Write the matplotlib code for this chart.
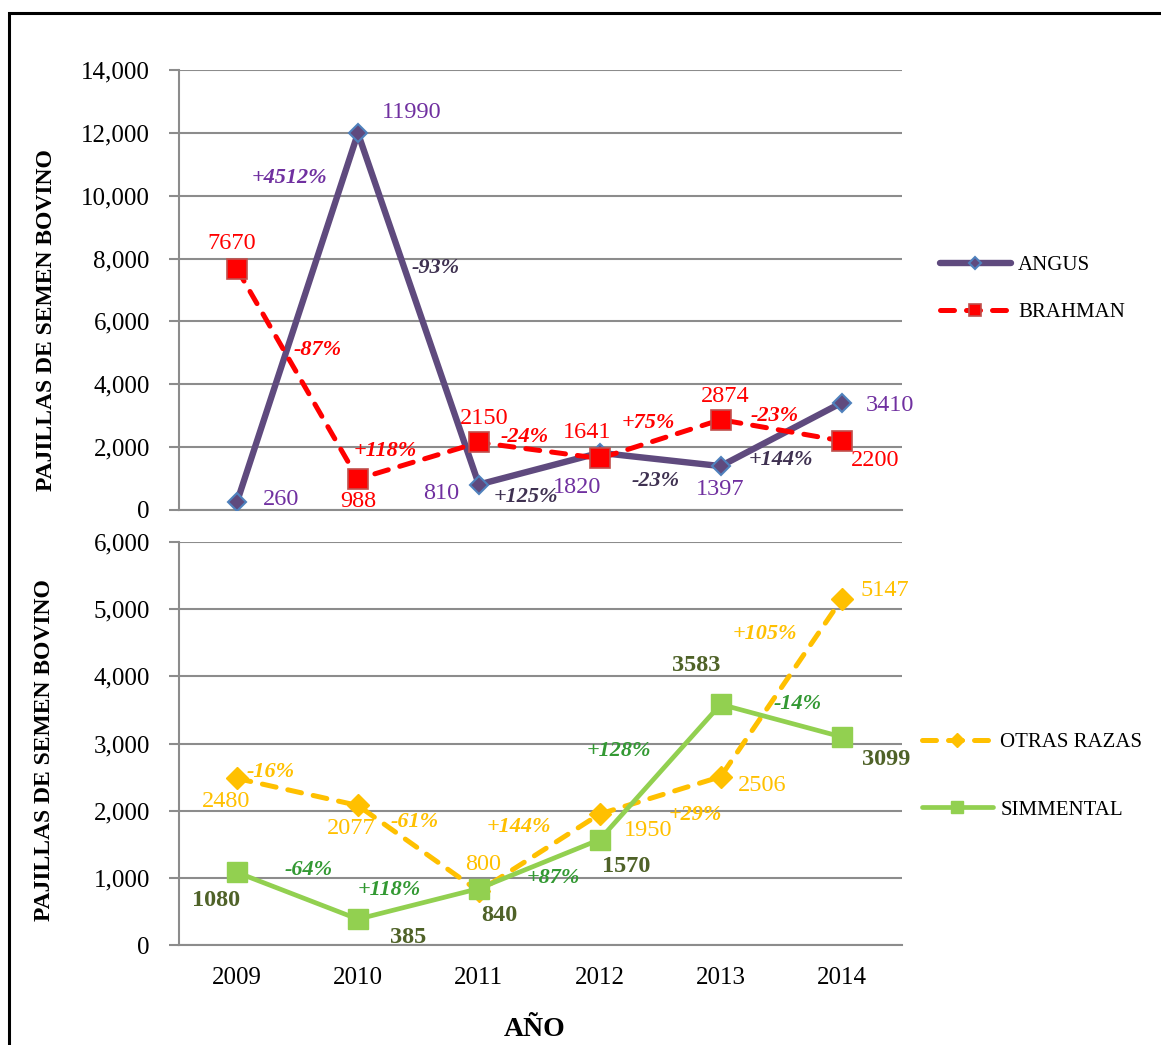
import matplotlib
matplotlib.use('Agg')
import matplotlib.pyplot as plt
from matplotlib.patches import Rectangle

# data
years = ['2009', '2010', '2011', '2012', '2013', '2014']
angus = [260, 11990, 810, 1820, 1397, 3410]
brahman = [7670, 988, 2150, 1641, 2874, 2200]
otras = [2480, 2077, 800, 1950, 2506, 5147]
simmental = [1080, 385, 840, 1570, 3583, 3099]

angus_pct = ['+4512%', '-93%', '+125%', '-23%', '+144%']
brahman_pct = ['-87%', '+118%', '-24%', '+75%', '-23%']
otras_pct = ['-16%', '-61%', '+144%', '+29%', '+105%']
simmental_pct = ['-64%', '+118%', '+87%', '+128%', '-14%']

# label layout (pixel offsets for value labels, data positions for % labels)
angus_off = [(44, 2), (54, 21), (-38, -9), (-23, -35), (0, -23), (48, -3)]
brahman_off = [(-5, 25), (0, -23), (5, 24), (-13, 26), (5, 23), (34, -20)]
otras_off = [(-11, -23), (-7, -23), (4, 27), (48, -16), (42, -9), (43, 9)]
simmental_off = [(-21, -28), (50, -18), (21, -27), (26, -27), (-24, 39), (45, -23)]

angus_pct_pos = [(0.43, 10564), (1.64, 7700), (2.39, 414), (3.46, 923), (4.50, 1591)]
brahman_pct_pos = [(0.67, 5091), (1.23, 1877), (2.38, 2323), (3.40, 2768), (4.45, 2991)]
otras_pct_pos = [(0.28, 2576), (1.47, 1831), (2.33, 1757), (3.79, 1935), (4.37, 4630)]
simmental_pct_pos = [(0.59, 1117), (1.26, 819), (2.62, 998), (3.16, 2888), (4.64, 3588)]

plt.rcParams['font.family'] = ['Liberation Serif', 'DejaVu Serif']

W, H = 1161, 1045
fig = plt.figure(figsize=(W / 100, H / 100), dpi=100)

# outer frame
fig.patches.append(Rectangle((9 / W, -0.1), 1.2, 1 - 13 / H + 0.1, transform=fig.transFigure,
                             fill=False, edgecolor='black', linewidth=2.2))

ax1 = fig.add_axes([179 / W, 1 - 510 / H, 723 / W, 440 / H])
ax2 = fig.add_axes([179 / W, 1 - 945 / H, 723 / W, 403 / H])

x = list(range(len(years)))
grid_col = '#8C8C8C'


def style(ax, ymax, step):
    ax.set_xlim(-0.48, 5.5)
    ax.set_ylim(0, ymax)
    ax.set_yticks(range(0, ymax + 1, step))
    ax.yaxis.set_major_formatter(matplotlib.ticker.StrMethodFormatter('{x:,.0f}'))
    ax.grid(axis='y', color=grid_col, linewidth=1.5)
    ax.set_axisbelow(True)
    for s in ['top', 'right']:
        ax.spines[s].set_visible(False)
    ax.spines['left'].set_color(grid_col)
    ax.spines['left'].set_linewidth(1.5)
    ax.spines['bottom'].set_color(grid_col)
    ax.spines['bottom'].set_linewidth(1.5)
    ax.tick_params(axis='y', length=7, color=grid_col, width=1.5, pad=14, labelsize=18)
    ax.set_xticks(x)
    ax.tick_params(axis='x', length=0, pad=16, labelsize=18)


style(ax1, 14000, 2000)
style(ax2, 6000, 1000)
ax1.set_xticklabels([])
ax2.set_xticklabels(years)


def values(ax, vals, offs, color, weight='normal'):
    for i, (v, o) in enumerate(zip(vals, offs)):
        ax.annotate(str(v), (i, v), xytext=o, textcoords='offset pixels', ha='center',
                    va='center', fontsize=17.5, color=color, fontweight=weight, zorder=6)


def pcts(ax, labels, pos, colors):
    for lab, p, c in zip(labels, pos, colors):
        ax.text(p[0], p[1], lab, ha='center', va='center', fontsize=16, color=c,
                fontweight='bold', fontstyle='italic', zorder=6)


# top panel
ax1.plot(x, angus, color='#5F4A7E', linewidth=4.6, marker='D', markersize=9.5,
         markerfacecolor='#5F4A7E', markeredgecolor='#4F81BD', markeredgewidth=1.5,
         solid_capstyle='round', label='ANGUS', zorder=3)
ax1.plot(x, brahman, color='#FF0000', linewidth=3.6, linestyle=(0, (2.8, 2.4)),
         dash_capstyle='round', marker='s', markersize=14, markerfacecolor='#FF0000',
         markeredgecolor='#C0504D', markeredgewidth=1.2, label='BRAHMAN', zorder=4)
values(ax1, angus, angus_off, '#7030A0')
values(ax1, brahman, brahman_off, '#FF0000')
pcts(ax1, angus_pct, angus_pct_pos, ['#7030A0'] + ['#3F3151'] * 4)
pcts(ax1, brahman_pct, brahman_pct_pos, ['#FF0000'] * 5)

# bottom panel
ax2.plot(x, otras, color='#FFC000', linewidth=3.6, linestyle=(0, (2.8, 2.4)),
         dash_capstyle='round', marker='D', markersize=11, markerfacecolor='#FFC000',
         markeredgecolor='#FFC000', label='OTRAS RAZAS', zorder=3)
ax2.plot(x, simmental, color='#92D050', linewidth=3.4, marker='s', markersize=14,
         markerfacecolor='#92D050', markeredgecolor='#92D050', solid_capstyle='round',
         label='SIMMENTAL', zorder=4)
values(ax2, otras, otras_off, '#FFC000')
values(ax2, simmental, simmental_off, '#4F6228', weight='bold')
pcts(ax2, otras_pct, otras_pct_pos, ['#FFC000'] * 5)
pcts(ax2, simmental_pct, simmental_pct_pos, ['#339933'] * 5)

leg_kw = dict(frameon=False, fontsize=15, handlelength=3.4, handletextpad=0.35,
              loc='center left', borderaxespad=0, borderpad=0, markerscale=0.65)
fig.legend(*ax1.get_legend_handles_labels(), bbox_to_anchor=(940 / W, 1 - 289 / H),
           labelspacing=1.3, **leg_kw)
fig.legend(*ax2.get_legend_handles_labels(), bbox_to_anchor=(922 / W, 1 - 776 / H),
           labelspacing=2.3, **leg_kw)

# axis titles
fig.text(47 / W, 1 - 320 / H, 'PAJILLAS DE SEMEN BOVINO', rotation=90, ha='center',
         va='center', fontsize=17, fontweight='bold')
fig.text(45 / W, 1 - 750 / H, 'PAJILLAS DE SEMEN BOVINO', rotation=90, ha='center',
         va='center', fontsize=17, fontweight='bold')
fig.text(535 / W, 1 - 1030 / H, 'AÑO', ha='center', va='center', fontsize=20,
         fontweight='bold')

fig.savefig('out.png', dpi=100)
